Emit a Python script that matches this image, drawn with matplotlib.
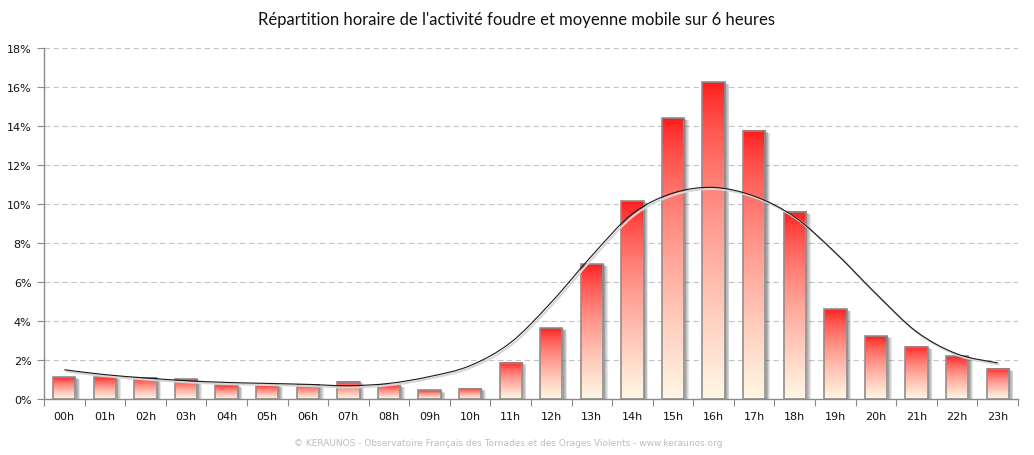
import numpy as np
import matplotlib
matplotlib.use('Agg')
import matplotlib.pyplot as plt
from matplotlib.patches import Rectangle, PathPatch
from matplotlib.path import Path
from matplotlib.transforms import offset_copy

hours = ['%02dh' % h for h in range(24)]
activite = [1.11, 1.11, 1.08, 1.01, 0.70, 0.70, 0.73, 0.89, 0.70, 0.44, 0.53, 1.86,
            3.62, 6.92, 10.15, 14.4, 16.25, 13.75, 9.6, 4.6, 3.23, 2.67, 2.2, 1.54]
moyenne = [1.50, 1.25, 1.08, 0.94, 0.85, 0.80, 0.75, 0.68, 0.80, 1.15, 1.71, 2.90,
           4.96, 7.35, 9.50, 10.56, 10.85, 10.40, 9.33, 7.50, 5.40, 3.45, 2.31, 1.85]
yticks = [0, 2, 4, 6, 8, 10, 12, 14, 16, 18]

fig = plt.figure(figsize=(10.34, 4.56), dpi=100)
ax = fig.add_axes([44 / 1034, 56 / 456, 974 / 1034, 351 / 456])

# grille
for v in yticks[1:]:
    ax.axhline(v, color='#c4c4c4', lw=0.8, ls=(0, (5, 3)), zorder=0)

w = 0.55
top = np.array([255, 20, 20]) / 255
bottom = np.array([255, 247, 228]) / 255
t = np.linspace(0, 1, 256)[:, None] ** 0.65
grad = (top * (1 - t) + bottom * t)[:, None, :]
grad = np.repeat(grad, 2, axis=1)

for i, v in enumerate(activite):
    # ombre
    for k in range(1, 7):
        tr = offset_copy(ax.transData, fig=fig, x=k * 0.55, y=-k * 0.25, units='points')
        ax.add_patch(Rectangle((i - w / 2, 0), w, v, transform=tr,
                               facecolor='#303030', edgecolor='none', alpha=0.11, zorder=1))
    ax.imshow(grad, extent=(i - w / 2, i + w / 2, 0, v), aspect='auto', zorder=2,
              interpolation='bilinear')
    ax.add_patch(Rectangle((i - w / 2, 0), w, v, facecolor='none',
                           edgecolor='#8e8e8e', lw=1.2, zorder=3))

# moyenne mobile lissée (courbe de Bezier)
x = np.arange(len(moyenne), dtype=float)
y = np.array(moyenne)
verts = [(x[0], y[0])]
codes = [Path.MOVETO]
for i in range(len(x) - 1):
    p0 = (x[max(i - 1, 0)], y[max(i - 1, 0)])
    p1 = (x[i], y[i])
    p2 = (x[i + 1], y[i + 1])
    p3 = (x[min(i + 2, len(x) - 1)], y[min(i + 2, len(x) - 1)])
    c1 = (p1[0] + (p2[0] - p0[0]) / 6, p1[1] + (p2[1] - p0[1]) / 6)
    c2 = (p2[0] - (p3[0] - p1[0]) / 6, p2[1] - (p3[1] - p1[1]) / 6)
    verts += [c1, c2, p2]
    codes += [Path.CURVE4] * 3
path = Path(verts, codes)
tr = offset_copy(ax.transData, fig=fig, x=1.2, y=-1.2, units='points')
ax.add_patch(PathPatch(path, facecolor='none', edgecolor='#d6d6d6', lw=1.5, transform=tr, zorder=4))
ax.add_patch(PathPatch(path, facecolor='none', edgecolor='#1a1a1a', lw=0.8, zorder=5))

ax.set_xlim(-0.5, 23.5)
ax.set_ylim(0, 18)
ax.set_yticks(yticks)
ax.set_yticklabels(['%d%%' % v for v in yticks])
ax.set_xticks(np.arange(-0.5, 24, 1))
ax.set_xticklabels([])
ax.set_xticks(np.arange(24), minor=True)
ax.set_xticklabels(hours, minor=True)
ax.tick_params(axis='x', which='major', direction='out', length=5, color='#8a8a8a')
ax.tick_params(axis='x', which='minor', length=0, pad=9, labelsize=8, labelcolor='#111111')
ax.tick_params(axis='y', direction='out', length=5, color='#8a8a8a', labelsize=8,
               labelcolor='#111111', pad=4)
for s in ['top', 'right']:
    ax.spines[s].set_visible(False)
for s in ['left', 'bottom']:
    ax.spines[s].set_color('#8a8a8a')
    ax.spines[s].set_linewidth(1.0)

fig.text(517 / 1034, 1 - 20 / 456, "Répartition horaire de l'activité foudre et moyenne mobile sur 6 heures",
         ha='center', va='center', fontsize=12, family='Lato', color='#111111')
fig.text(508 / 1034, 1 - 444 / 456,
         '© KERAUNOS - Observatoire Français des Tornades et des Orages Violents - www.keraunos.org',
         ha='center', va='center', fontsize=6.5, color='#bdbdbd')

fig.savefig('out.png', dpi=100)
